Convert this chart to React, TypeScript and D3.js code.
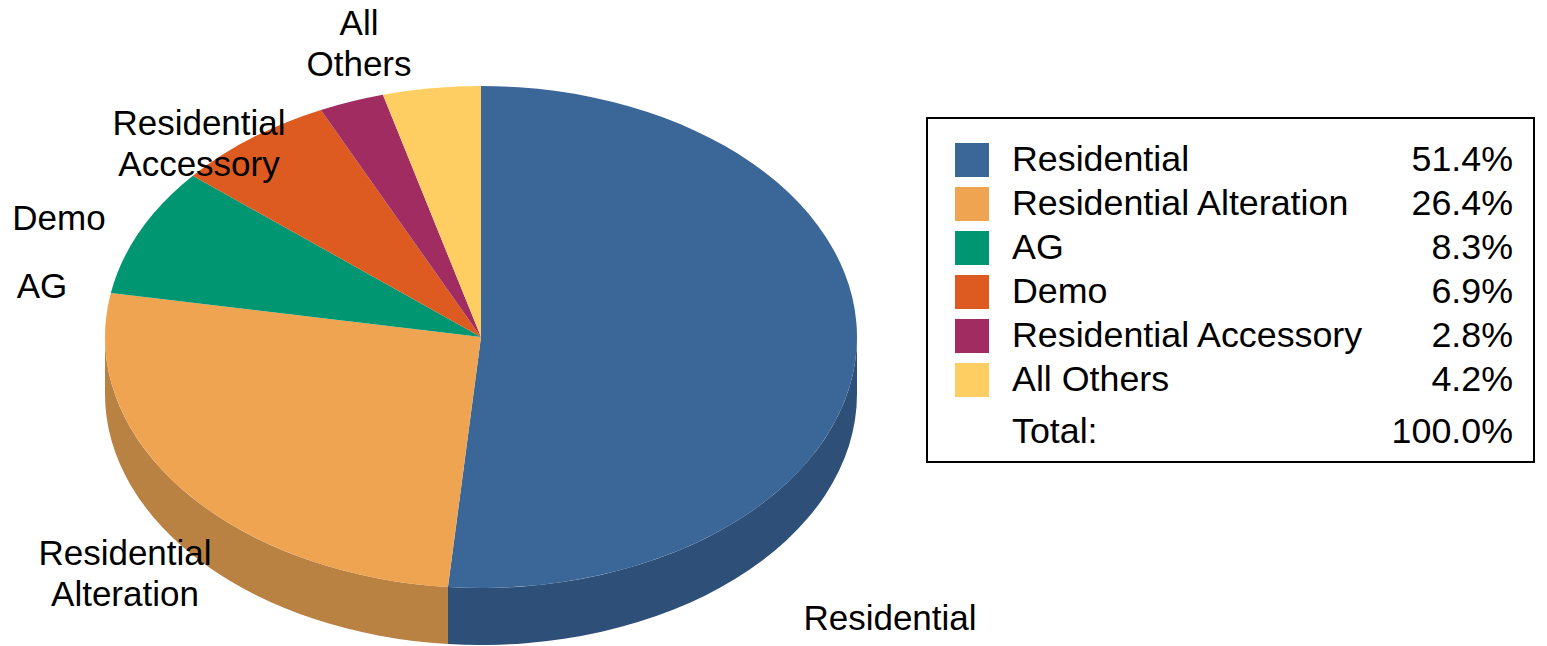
import React from "react";
import * as d3 from "d3";

const categories = ["Residential", "Residential Alteration", "AG", "Demo", "Residential Accessory", "All Others"];
const values = [51.4, 26.4, 8.3, 6.9, 2.8, 4.2];
const topColors = ["#3B6698", "#EFA452", "#009672", "#DD5A20", "#A12C62", "#FECE63"];
const sideColors = ["#2E5078", "#B98142", "#00755A", "#AD4619", "#7E224D", "#C7A14E"];
const totalLabel = "Total:";

// layout (not data)
const W = 1547, H = 646;
const cx = 481, cy = 337, rx = 376, ry = 251, depth = 57;
const FONT = "Liberation Sans, Arial, sans-serif";
const FS = 35;
const LFS = 35.8;
const labelLayout: { x: number; lines: string[]; y: number }[] = [
  { x: 890, y: 630, lines: ["Residential"] },
  { x: 125, y: 565, lines: ["Residential", "Alteration"] },
  { x: 42, y: 298, lines: ["AG"] },
  { x: 59, y: 230, lines: ["Demo"] },
  { x: 199, y: 135, lines: ["Residential", "Accessory"] },
  { x: 359, y: 35, lines: ["All", "Others"] },
];
const lineGap = 41;

function pt(a: number, dy = 0): [number, number] {
  return [cx + rx * Math.sin(a), cy - ry * Math.cos(a) + dy];
}

export default function App() {
  const pie = d3.pie<number>().sort(null).value((d) => d);
  const arcs = pie(values);
  const total = d3.sum(values);

  const topPaths = arcs.map((a) => {
    const [x0, y0] = pt(a.startAngle);
    const [x1, y1] = pt(a.endAngle);
    const large = a.endAngle - a.startAngle > Math.PI ? 1 : 0;
    return `M${cx},${cy}L${x0},${y0}A${rx},${ry} 0 ${large} 1 ${x1},${y1}Z`;
  });

  const sidePaths = arcs.map((a) => {
    const s = Math.max(a.startAngle, Math.PI / 2);
    const e = Math.min(a.endAngle, (3 * Math.PI) / 2);
    if (e <= s) return null;
    const [x0, y0] = pt(s);
    const [x1, y1] = pt(e);
    return `M${x0},${y0}A${rx},${ry} 0 0 1 ${x1},${y1}L${x1},${y1 + depth}A${rx},${ry} 0 0 0 ${x0},${y0 + depth}Z`;
  });

  const legX = 927, legY = 118, legW = 607, legH = 344;
  const rowY = d3.scaleLinear().domain([0, 1]).range([171, 215]);
  const fmt = (v: number) => v.toFixed(1) + "%";

  return (
    <svg width={W} height={H} style={{ position: "absolute", left: 0, top: 0 }} fontFamily={FONT}>
      <rect width={W} height={H} fill="#fff" />
      {sidePaths.map((p, i) => (p ? <path key={"s" + i} d={p} fill={sideColors[i]} /> : null))}
      {topPaths.map((p, i) => (
        <path key={"t" + i} d={p} fill={topColors[i]} />
      ))}
      {labelLayout.map((l, i) => (
        <text key={"l" + i} x={l.x} y={l.y} textAnchor="middle" fontSize={FS} fill="#000">
          {l.lines.map((ln, j) => (
            <tspan key={j} x={l.x} y={l.y + j * lineGap}>
              {ln}
            </tspan>
          ))}
        </text>
      ))}
      <rect x={legX} y={legY} width={legW} height={legH} fill="#fff" stroke="#000" strokeWidth={2} />
      {categories.map((c, i) => (
        <g key={"g" + i}>
          <rect x={955} y={rowY(i) - 28} width={34} height={34} fill={topColors[i]} />
          <text x={1012} y={rowY(i)} fontSize={LFS} fill="#000">
            {c}
          </text>
          <text x={1513} y={rowY(i)} fontSize={LFS} textAnchor="end" fill="#000">
            {fmt(values[i])}
          </text>
        </g>
      ))}
      <text x={1012} y={rowY(categories.length) + 8} fontSize={LFS} fill="#000">
        {totalLabel}
      </text>
      <text x={1513} y={rowY(categories.length) + 8} fontSize={LFS} textAnchor="end" fill="#000">
        {fmt(total)}
      </text>
    </svg>
  );
}
